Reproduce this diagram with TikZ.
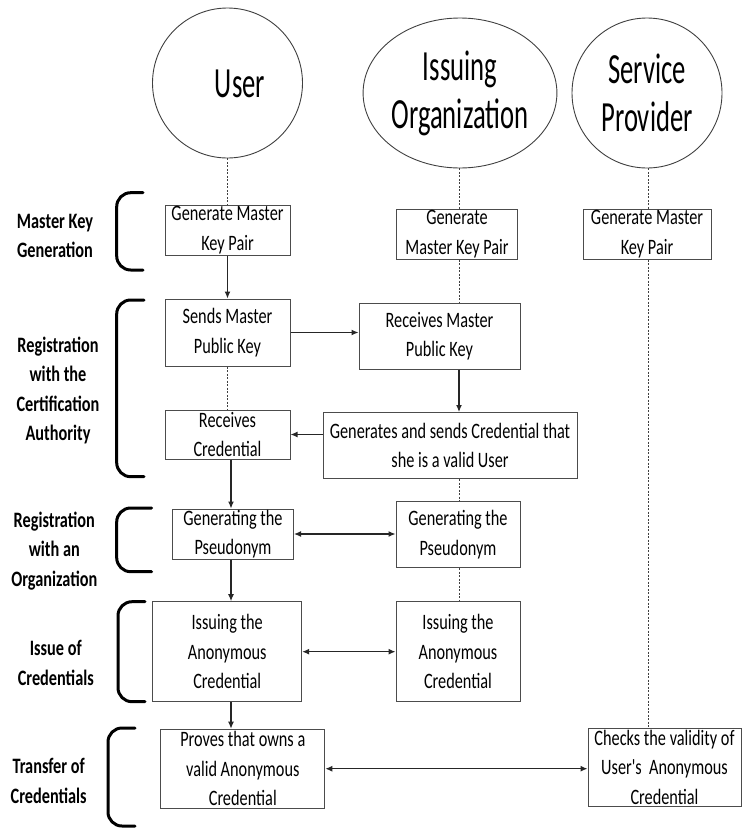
\documentclass[tikz,border=0pt]{standalone}
\usepackage{fontspec}
\setmainfont{Carlito}
\newfontfamily\boxfont{Carlito}[FakeStretch=0.74]
\newfontfamily\headfont{Carlito}[FakeStretch=0.62]
\usetikzlibrary{arrows.meta,shapes.geometric}

\begin{document}
\begin{tikzpicture}[x=1pt,y=-1pt,
  actor/.style={draw=black!75, line width=0.9pt, ellipse, inner sep=0pt,
    minimum height=150pt, font=\headfont\fontsize{43}{48}\selectfont, align=center},
  box/.style={draw=black!70, line width=1pt, fill=white, inner sep=0pt},
  txt/.style={align=center, inner sep=0pt, font=\boxfont\fontsize{22}{29.5}\selectfont},
  grp/.style={align=center, inner sep=0pt, font=\boxfont\bfseries\fontsize{22}{29.5}\selectfont},
  arr/.style={-{Latex[length=7pt,width=6pt]}, line width=1.2pt, black!85},
  dbl/.style={{Latex[length=7pt,width=6pt]}-{Latex[length=7pt,width=6pt]}, line width=1.2pt, black!85},
  life/.style={black!75, line width=0.8pt, dash pattern=on 2pt off 1.5pt},
  brace/.style={line width=3pt, line cap=round, rounded corners=14pt}
]
\useasboundingbox (0,0) rectangle (743,830);

% lifeline reference columns
\coordinate (uL) at (231,0);
\coordinate (iL) at (459,0);
\coordinate (sL) at (648,0);

% participants
\node[actor, minimum width=150pt] (cU) at (227.5,83) {};
\node[txt, font=\headfont\fontsize{43}{48}\selectfont] (tU) at (240,84) {User};
\node[actor, minimum width=176pt] (cI) at (460,93) {Issuing\\Organization};
\node[actor, minimum width=150pt] (cS) at (647,93) {Service\\Provider};

% master key generation
\node[box, minimum width=125pt, minimum height=50pt,
  label={[txt]center:{Generate Master\\Key Pair}}] (uG) at (227.5,230) {};
\node[box, minimum width=121pt, minimum height=50pt,
  label={[txt]center:{Generate\\Master Key Pair}}] (iG) at (457,234) {};
\node[box, minimum width=128pt, minimum height=50pt,
  label={[txt]center:{Generate Master\\Key Pair}}] (sG) at (647,234) {};

% registration with the certification authority
\node[box, minimum width=125pt, minimum height=67pt,
  label={[txt]center:{Sends Master\\Public Key}}] (uS) at (227.5,332.5) {};
\node[box, minimum width=161pt, minimum height=66pt,
  label={[txt]center:{Receives Master\\Public Key}}] (iR) at (439.5,336) {};
\node[box, minimum width=125pt, minimum height=49pt,
  label={[txt]center:{Receives\\Credential}}] (uR) at (227.5,434.5) {};
\node[box, minimum width=254pt, minimum height=66pt,
  label={[txt]center:{Generates and sends Credential that\\she is a valid User}}] (iS) at (450,445.5) {};

% registration with an organization
\node[box, minimum width=121pt, minimum height=50pt,
  label={[txt]center:{Generating the\\Pseudonym}}] (uP) at (233,534) {};
\node[box, minimum width=124pt, minimum height=66pt,
  label={[txt]center:{Generating the\\Pseudonym}}] (iP) at (458,534.7) {};

% issue of credentials
\node[box, minimum width=149pt, minimum height=100pt,
  label={[txt]center:{Issuing the\\Anonymous\\Credential}}] (uI) at (227.2,651.7) {};
\node[box, minimum width=124pt, minimum height=100pt,
  label={[txt]center:{Issuing the\\Anonymous\\Credential}}] (iI) at (458,651.7) {};

% transfer of credentials
\node[box, minimum width=164pt, minimum height=79pt,
  label={[txt]center:{Proves that owns a\\valid Anonymous\\Credential}}] (uV) at (242.8,768.7) {};
\node[box, minimum width=153pt, minimum height=78pt,
  label={[txt]center:{Checks the validity of\\User's\ \ Anonymous\\Credential}}] (sC) at (664.5,767) {};

% lifelines
\draw[life] (cU) -- (uG);
\draw[life] (uS) -- (uR);
\draw[life] (cI.south -| iL) -- (iG.north -| iL);
\draw[life] (iG.south -| iL) -- (iR.north -| iL);
\draw[life] (iS.south -| iL) -- (iP.north -| iL);
\draw[life] (iP.south -| iL) -- (iI.north -| iL);
\draw[life] (cS.south -| sL) -- (sG.north -| sL);
\draw[life] (sG.south -| sL) -- (sC.north -| sL);

% messages
\draw[arr] (uG) -- (uS);
\draw[arr] (uS.east) -- (uS.east -| iR.west);
\draw[arr] (iR.south -| iL) -- (iS.north -| iL);
\draw[arr] (uR.east -| iS.west) -- (uR.east);
\draw[arr] (uR.south -| uL) -- (uP.north -| uL);
\draw[dbl] (uP.east) -- (uP.east -| iP.west);
\draw[arr] (uP.south -| uL) -- (uI.north -| uL);
\draw[dbl] (uI.east) -- (uI.east -| iI.west);
\draw[arr] (uI.south -| uL) -- (uV.north -| uL);
\draw[dbl] (uV.east) -- (uV.east -| sC.west);

% phase brackets
\draw[brace] (143,192.7) -- (116.7,192.7) -- (116.7,270) -- (143,270);
\draw[brace] (144,300) -- (116.7,300) -- (116.7,476.7) -- (144,476.7);
\draw[brace] (151.7,508) -- (116.7,508) -- (116.7,571.7) -- (151.7,571.7);
\draw[brace] (145,601.7) -- (118,601.7) -- (118,701.7) -- (145,701.7);
\draw[brace] (135,728) -- (108,728) -- (108,826) -- (135,826);

% phase names
\node[grp] (g1) at (55,236) {Master Key\\Generation};
\node[grp] (g2) at (58,390.5) {Registration\\with the\\Certification\\Authority};
\node[grp] (g3) at (54.3,550.7) {Registration\\with an\\Organization};
\node[grp] (g4) at (55.8,663) {Issue of\\Credentials};
\node[grp] (g5) at (48.7,781) {Transfer of\\Credentials};
\end{tikzpicture}
\end{document}
